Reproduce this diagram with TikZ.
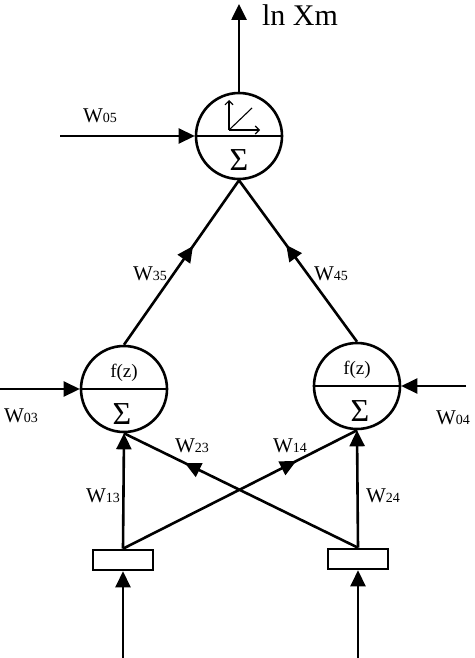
\documentclass[tikz,border=0pt]{standalone}
\usepackage{fontspec}
\setmainfont{Liberation Serif}
\usepackage{tikz}
\usetikzlibrary{arrows.meta}
\usetikzlibrary{decorations,decorations.markings}
\usetikzlibrary{shapes}
\usetikzlibrary{calc}
\tikzstyle{neuron}=[draw, circle, line width=2.6pt, minimum size=86pt, inner sep=0pt]
\tikzstyle{inbox}=[draw, rectangle, line width=2.6pt, minimum width=60pt, minimum height=20pt, inner sep=0pt]
\tikzstyle{wire}=[line width=2.6pt]
\tikzstyle{tip}=[wire, -{Triangle[length=16pt,width=15pt]}]
\tikzset{midarrow/.style={wire, postaction={decorate, decoration={markings,
	mark=at position #1 with {\arrow{Triangle[length=16pt,width=15pt]}}}}}}
\newcommand{\wlab}[1]{{\fontsize{21}{21}\selectfont W}{\fontsize{14}{14}\selectfont #1}}
\newcommand{\halfline}[1]{\draw[line width=2.6pt] (#1.west) -- (#1.east);}

\begin{document}
\begin{tikzpicture}[x=1pt, y=-1pt]
	\useasboundingbox (0,0) rectangle (474,658);
	% neurons
	\node[neuron] (n5) at (239,136) {};
	\node[neuron] (n3) at (124,389) {};
	\node[neuron] (n4) at (357,386) {};
	\halfline{n5}
	\halfline{n3}
	\halfline{n4}
	\node at ($(n3)+(0,-16)$) {\fontsize{19}{19}\selectfont f(z)};
	\node at ($(n4)+(0,-16)$) {\fontsize{19}{19}\selectfont f(z)};
	\node at ($(n3)+(-2,25)$) {\fontsize{32}{32}\selectfont Σ};
	\node at ($(n4)+(3,25)$) {\fontsize{32}{32}\selectfont Σ};
	\node at ($(n5)+(0,24)$) {\fontsize{32}{32}\selectfont Σ};
	% axes sign in the output neuron
	\coordinate (ax) at (229,130);
	\draw[line width=1.1pt, -{Straight Barb[length=4pt,width=8pt]}] (ax) -- (229,100);
	\draw[line width=1.1pt, -{Straight Barb[length=4pt,width=8pt]}] (ax) -- (260,130);
	\draw[line width=1.1pt] (ax) -- (252,108);
	% input boxes
	\node[inbox] (box1) at (123,560) {};
	\node[inbox] (box2) at (358,559) {};
	\coordinate (in1) at (123,658);
	\coordinate (in2) at (358,658);
	\draw[tip] (in1) -- (box1.south);
	\draw[tip] (in2) -- (box2.south);
	% bias inputs and output
	\coordinate (b5) at (60,136);
	\coordinate (b3) at (0,389);
	\coordinate (b4) at (466,386);
	\coordinate (top) at (239,4);
	\draw[tip] (b5) -- (n5.west);
	\draw[tip] (b3) -- (n3.west);
	\draw[tip] (b4) -- (n4.east);
	\draw[tip] (n5.north) -- (top);
	% weights
	\draw[tip] (box1.north) -- (n3.south);
	\draw[tip] (box2.north) -- (n4.south);
	\draw[midarrow=0.74] (box1.north) -- (n4.south);
	\draw[midarrow=0.74] (box2.north) -- (n3.south);
	\draw[midarrow=0.6] (n3.north) -- (n5.south);
	\draw[midarrow=0.6] (n4.north) -- (n5.south);
	% labels
	\node (lout) at (300,15) {\fontsize{30}{30}\selectfont ln Xm};
	\node (l05) at (100,116) {\wlab{05}};
	\node (l35) at (150,274) {\wlab{35}};
	\node (l45) at (331,274) {\wlab{45}};
	\node (l03) at (21,416) {\wlab{03}};
	\node (l04) at (453,418) {\wlab{04}};
	\node (l23) at (192,446) {\wlab{23}};
	\node (l14) at (290,446) {\wlab{14}};
	\node (l13) at (103,496) {\wlab{13}};
	\node (l24) at (383,496) {\wlab{24}};
\end{tikzpicture}
\end{document}
